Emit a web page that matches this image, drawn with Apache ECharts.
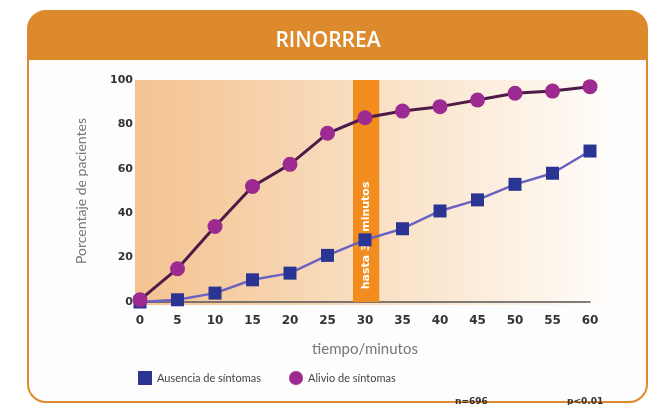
<!DOCTYPE html>
<html>
<head>
<meta charset="utf-8">
<script src="https://cdn.jsdelivr.net/npm/echarts@6/dist/echarts.min.js"></script>
<style>
html,body{margin:0;padding:0;background:#ffffff;}
#chart{width:656px;height:405px;}
</style>
</head>
<body>
<div id="chart"></div>
<script>
var minutes = [0, 5, 10, 15, 20, 25, 30, 35, 40, 45, 50, 55, 60];
var alivio = [1, 15, 34, 52, 62, 76, 83, 86, 88, 91, 94, 95, 97];
var ausencia = [0, 1, 4, 10, 13, 21, 28, 33, 41, 46, 53, 58, 68];
var seriesNames = ['Ausencia de síntomas', 'Alivio de síntomas'];
var bandRange = [28.4, 31.9];
var bandLabel = 'hasta 30 minutos';

function pairs(xs, ys) { return xs.map(function (x, i) { return [x, ys[i]]; }); }

var chart = echarts.init(document.getElementById('chart'), null, {renderer: 'canvas'});
var orange = '#dc8a2c';
chart.setOption({
  animation: false,
  backgroundColor: '#ffffff',
  title: [
    {text: 'RINORREA', left: 'center', top: 26, textStyle: {color: '#ffffff', fontSize: 21, fontWeight: 600, fontFamily: 'Open Sans'}},
    {text: 'n=696', left: 450, top: 392, textStyle: {color: '#333', fontSize: 9, fontWeight: 'bold', fontFamily: 'DejaVu Sans'}},
    {text: 'p<0.01', left: 562, top: 392, textStyle: {color: '#333', fontSize: 9, fontWeight: 'bold', fontFamily: 'DejaVu Sans'}}
  ],
  graphic: [
    {type: 'rect', z: -20, shape: {x: 28, y: 11, width: 619, height: 391, r: 18}, style: {fill: '#fdfdfd', stroke: orange, lineWidth: 2}},
    {type: 'rect', z: -19, shape: {x: 28, y: 11, width: 619, height: 49, r: [18, 18, 0, 0]}, style: {fill: orange}},
    {type: 'rect', z: -18, shape: {x: 135, y: 80, width: 470, height: 225},
      style: {fill: new echarts.graphic.LinearGradient(0, 0, 1, 0, [
        {offset: 0, color: '#f4c290'}, {offset: 0.45, color: '#f8dcbd'}, {offset: 1, color: '#fffcf9'}])}}
  ],
  grid: {left: 140, right: 66, top: 80, bottom: 103},
  legend: {
    left: 133, top: 366, itemWidth: 14, itemHeight: 14, itemGap: 28,
    textStyle: {color: '#444', fontSize: 11, fontFamily: 'Lato'},
    data: [{name: seriesNames[0], icon: 'rect'}, {name: seriesNames[1], icon: 'circle'}]
  },
  xAxis: {
    type: 'value', min: 0, max: 60, interval: 5, offset: 3,
    name: 'tiempo/minutos', nameLocation: 'middle', nameGap: 37,
    nameTextStyle: {color: '#777', fontSize: 15, fontFamily: 'Lato'},
    axisLine: {show: true, lineStyle: {color: '#555', width: 1.5}},
    axisTick: {show: false},
    axisLabel: {color: '#333', fontSize: 12, fontWeight: 'bold', fontFamily: 'DejaVu Sans', margin: 10},
    splitLine: {show: false}
  },
  yAxis: {
    type: 'value', min: 0, max: 100, interval: 20,
    name: 'Porcentaje de pacientes', nameLocation: 'middle', nameGap: 52,
    nameTextStyle: {color: '#777', fontSize: 14, fontFamily: 'Lato'},
    axisLine: {show: false}, axisTick: {show: false},
    axisLabel: {color: '#333', fontSize: 11, fontWeight: 'bold', fontFamily: 'DejaVu Sans', margin: 7},
    splitLine: {show: false}
  },
  series: [
    {
      name: seriesNames[0], type: 'line', data: pairs(minutes, ausencia), z: 3,
      symbol: 'rect', symbolSize: 13,
      itemStyle: {color: '#2a3593'},
      lineStyle: {color: '#6a62c0', width: 2.5}
    },
    {
      name: seriesNames[1], type: 'line', data: pairs(minutes, alivio), z: 4,
      symbol: 'circle', symbolSize: 15,
      itemStyle: {color: '#9c2a91'},
      lineStyle: {color: '#4e1a48', width: 3},
      markArea: {
        silent: true,
        itemStyle: {color: '#f28c1e', opacity: 1},
        label: {show: true, position: ['50%', '70%'], rotate: 90, align: 'center', verticalAlign: 'middle',
          color: '#ffffff', fontSize: 11, fontWeight: 'bold', fontFamily: 'DejaVu Sans', formatter: bandLabel},
        data: [[{xAxis: bandRange[0]}, {xAxis: bandRange[1]}]]
      }
    }
  ]
});
</script>
</body>
</html>
